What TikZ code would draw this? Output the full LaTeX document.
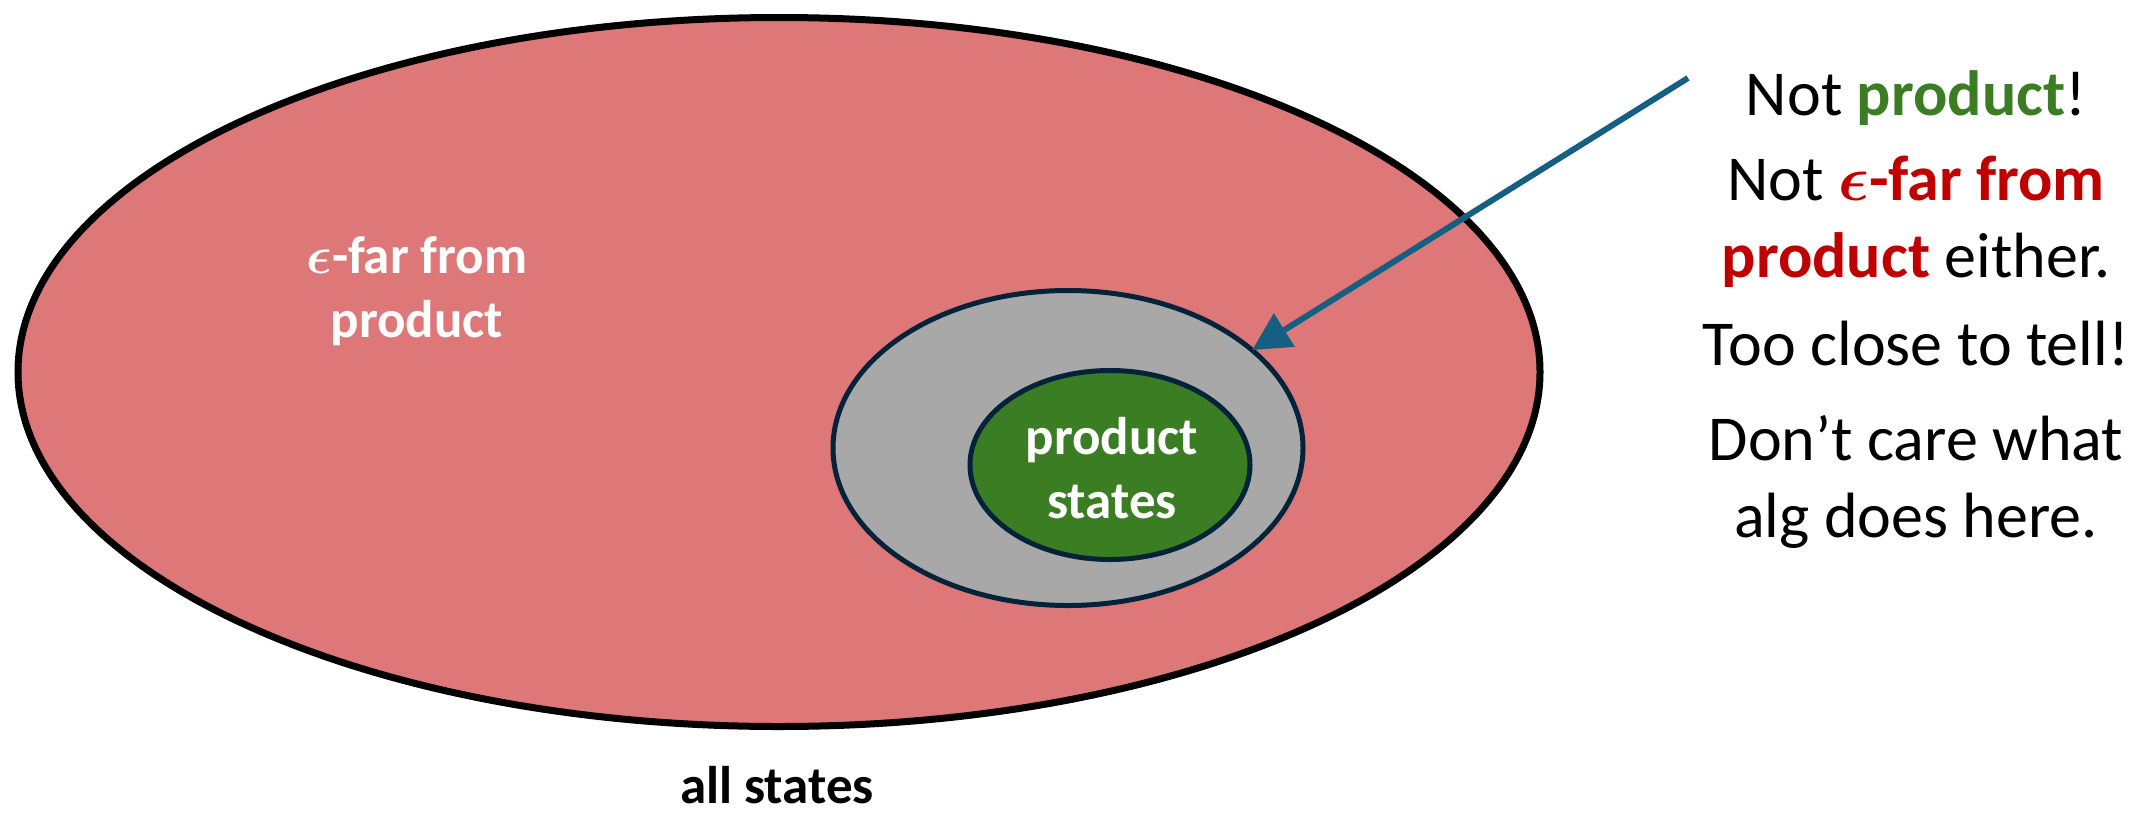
\RequirePackage{fix-cm}
\documentclass[tikz,border=0pt]{standalone}
\usepackage{amsmath}
\usepackage{fontspec}
\setmainfont{Carlito}
\usepackage{tikz}
\usepackage{xcolor}
\usetikzlibrary{arrows.meta,positioning,shapes.geometric}
\definecolor{FarPink}{HTML}{DE7878}
\definecolor{NearGray}{HTML}{A8A8A8}
\definecolor{ProdGreen}{HTML}{3B7D23}
\definecolor{FarRed}{HTML}{C00000}
\definecolor{Edge}{HTML}{03233A}
\definecolor{Pointer}{HTML}{156082}

\begin{document}
\begin{tikzpicture}[x=1pt,y=-1pt,
  region/.style={ellipse,inner sep=0pt,outer sep=0pt},
  allset/.style={region,draw=black,line width=7pt,fill=FarPink},
  nearset/.style={region,draw=Edge,line width=5pt,fill=NearGray},
  prodset/.style={region,draw=Edge,line width=5pt,fill=ProdGreen},
  setlabel/.style={font=\fontsize{53}{64}\selectfont\bfseries,align=center,inner sep=0pt,anchor=base},
  remark/.style={font=\fontsize{64}{77}\selectfont,align=center,inner sep=0pt,anchor=base},
  pointer/.style={-{Triangle[length=38pt,width=38pt]},line width=6pt,draw=Pointer}
]
\useasboundingbox (0,0) rectangle (2151,812);
\node[allset,minimum width=1522pt,minimum height=709pt] (all) at (779,372) {};
\node[nearset,minimum width=470pt,minimum height=315pt] (near) at (1068,448) {};
\node[prodset,minimum width=280pt,minimum height=189pt] (prod) at (1110,465) {};
\node[setlabel,text=white] (farlbl) at (417,337) {$\boldsymbol{\epsilon}$-far from\\product};
\node[setlabel,text=white] (prodlbl) at (1112,518) {product\\states};
\node[setlabel] (alllbl) at (777,803) {all states};
% remarks on the right
\node[remark] (r1) at (1916,115) {Not \textbf{\color{ProdGreen}product}!};
\node[remark] (r2) at (1916,277) {Not \textbf{\color{FarRed}$\boldsymbol{\epsilon}$-far from}\\\textbf{\color{FarRed}product} either.};
\node[remark] (r3) at (1916,365) {Too close to tell!};
\node[remark] (r4) at (1916,537) {Don’t care what\\alg does here.};
\coordinate (tail) at (1688,78);
\draw[pointer] (tail) -- (near.28);
\end{tikzpicture}
\end{document}
